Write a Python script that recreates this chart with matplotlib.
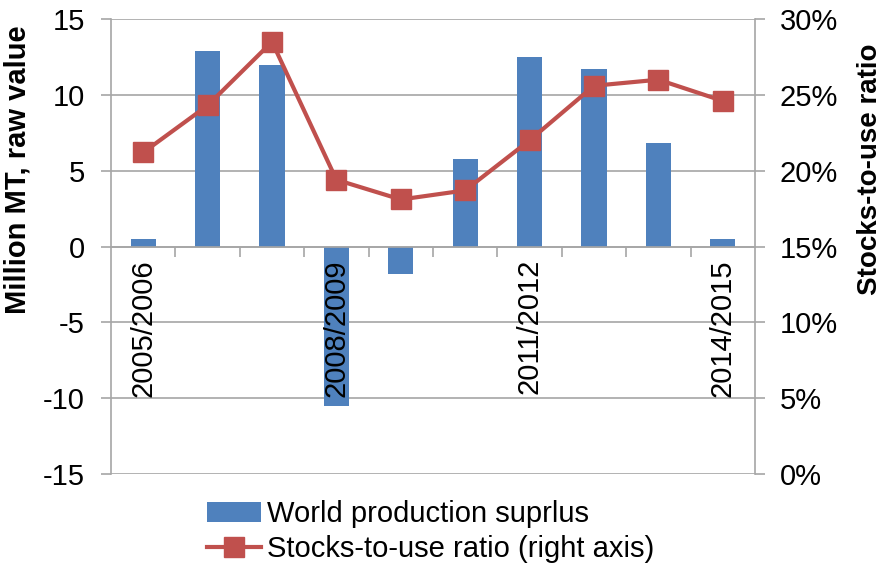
import numpy as np
from matplotlib import pyplot as plt
from matplotlib.ticker import FixedLocator, FuncFormatter

plt.rcParams['font.family'] = ['Liberation Sans', 'DejaVu Sans']
plt.rcParams['axes.unicode_minus'] = False

# Datos
seasons = ["2005/2006", "2006/2007", "2007/2008", "2008/2009", "2009/2010",
           "2010/2011", "2011/2012", "2012/2013", "2013/2014", "2014/2015"]
surplus = [0.5, 12.9, 12.0, -10.5, -1.8, 5.8, 12.5, 11.7, 6.8, 0.5]
stocks_ratio = [21.2, 24.3, 28.5, 19.4, 18.1, 18.7, 22.0, 25.6, 26.0, 24.6]
shown_labels = ["2005/2006", "2008/2009", "2011/2012", "2014/2015"]

blue = "#4F81BD"
red = "#C0504D"
grid_col = "#A6A6A6"

fig = plt.figure(figsize=(8.86, 5.68), dpi=100)
ax = fig.add_axes([0.1253, 0.1655, 0.7268, 0.801])
ax2 = ax.twinx()

x = np.arange(len(seasons))
ax.bar(x, surplus, width=0.39, color=blue, zorder=2, label="World production suprlus")
ax2.plot(x, stocks_ratio, color=red, lw=3, marker="s", markersize=15,
         label="Stocks-to-use ratio (right axis)", zorder=3)

# Eje izquierdo
ax.set_ylim(-15, 15)
ax.set_yticks(np.arange(-15, 16, 5))
ax.set_xlim(-0.5, len(seasons) - 0.5)
ax.yaxis.grid(True, color=grid_col, lw=1.2, zorder=0)
ax.set_axisbelow(True)
ax.tick_params(axis="y", labelsize=21, length=7, width=1.2, color=grid_col, pad=12)
ax.set_ylabel("Million MT, raw value", fontsize=21, fontweight="bold")
ax.yaxis.set_label_coords(-0.123, 0.668)

# Eje X en la línea del cero
ax.spines['bottom'].set_position(('data', 0))
ax.spines['bottom'].set_color(grid_col)
ax.spines['bottom'].set_linewidth(1.2)
ax.xaxis.set_major_locator(FixedLocator(x[:-1] + 0.5))
ax.xaxis.set_major_formatter(FuncFormatter(lambda v, p: ""))
ax.xaxis.set_minor_locator(FixedLocator(x))
ax.xaxis.set_minor_formatter(FuncFormatter(
    lambda v, p: seasons[int(round(v))] if seasons[int(round(v))] in shown_labels else ""))
ax.tick_params(axis="x", which="major", direction="out", length=7, width=1.2, color=grid_col)
ax.tick_params(axis="x", which="minor", length=0, labelsize=21, pad=9, labelrotation=90)
for lab in ax.xaxis.get_minorticklabels():
    lab.set_verticalalignment("top")
ax.xaxis.set_zorder(4)

for side in ["top", "right"]:
    ax.spines[side].set_visible(False)
ax.spines['left'].set_color(grid_col)
ax.spines['left'].set_linewidth(1.2)

# Eje derecho
ax2.set_ylim(0, 30)
ax2.set_yticks(np.arange(0, 31, 5))
ax2.yaxis.set_major_formatter(FuncFormatter(lambda v, p: f"{v:.0f}%"))
ax2.tick_params(axis="y", labelsize=21, length=7, width=1.2, color=grid_col, pad=11)
ax2.set_ylabel("Stocks-to-use ratio", fontsize=20, fontweight="bold")
ax2.yaxis.set_label_coords(1.159, 0.67)
for side in ["top", "bottom", "left"]:
    ax2.spines[side].set_visible(False)
ax2.spines['right'].set_color(grid_col)
ax2.spines['right'].set_linewidth(1.2)

# Leyenda
h1, l1 = ax.get_legend_handles_labels()
h2, l2 = ax2.get_legend_handles_labels()
fig.legend(h1 + h2, l1 + l2, loc="upper left", bbox_to_anchor=(0.221, 0.14),
           frameon=False, fontsize=21, handlelength=1.85, handletextpad=0.2,
           labelspacing=0.25, borderaxespad=0)

plt.savefig("out.png", dpi=100)
